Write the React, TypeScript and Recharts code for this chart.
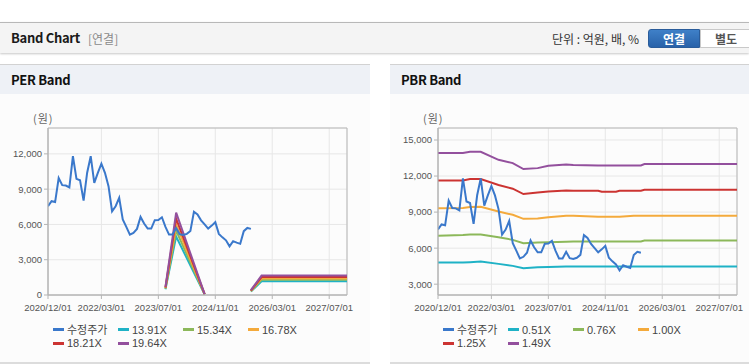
import { CartesianGrid, Line, LineChart, ReferenceArea, XAxis, YAxis } from 'recharts';

// month index 0 = 2020/12
const xTicks = [0, 15, 31, 47, 63, 79];
const xTickLabels = ['2020/12/01', '2022/03/01', '2023/07/01', '2024/11/01', '2026/03/01', '2027/07/01'];

// 수정주가, monthly from 2020/12
const price = [
  7550, 7975, 7900, 9950, 9340, 9310, 9150, 11800, 9880, 9760, 8030, 10400, 11800, 9540, 10390,
  11160, 10390, 9250, 7120, 7550, 8260, 6420, 5790, 5140, 5280, 5620, 6640, 6075, 5650, 5650,
  6360, 6380, 6610, 5790, 5140, 5140, 5700, 5160, 5100, 5200, 5440, 7080, 6850, 6350, 6000,
  5650, 5900, 6190, 5200, 4900, 4650, 4140, 4580, 4450, 4350, 5430, 5700, 5620,
];

// PER band (null = gap)
const perX = [33, 36, 44, 50, 57, 60, 84];
const per1391 = [487, 4966, 56, null, 292, 1168, 1168];
const per1534 = [537, 5476, 61, null, 322, 1289, 1289];
const per1678 = [587, 5990, 67, null, 352, 1410, 1410];
const per1821 = [637, 6501, 73, null, 382, 1530, 1530];
const per1964 = [687, 7011, 79, null, 412, 1650, 1650];
const perNames = ['13.91X', '15.34X', '16.78X', '18.21X', '19.64X'];

// PBR band
const pbrX = [0, 7, 9, 12, 17, 21, 24, 28, 31, 36, 38, 45, 46, 50, 51, 55, 57, 58, 84];
const pbr051 = [4800, 4800, 4830, 4890, 4690, 4525, 4330, 4415, 4440, 4470, 4470, 4470, 4470, 4470, 4470, 4470, 4470, 4470, 4470];
const pbr076 = [7025, 7100, 7135, 7135, 6915, 6690, 6415, 6480, 6500, 6530, 6550, 6550, 6550, 6550, 6550, 6550, 6550, 6635, 6635];
const pbr100 = [9330, 9340, 9420, 9450, 9050, 8775, 8440, 8470, 8580, 8690, 8690, 8610, 8610, 8610, 8610, 8690, 8690, 8690, 8690];
const pbr125 = [11630, 11640, 11745, 11745, 11250, 10950, 10500, 10630, 10715, 10790, 10775, 10775, 10690, 10690, 10775, 10775, 10775, 10860, 10860];
const pbr149 = [13910, 13920, 14020, 14020, 13350, 13080, 12580, 12660, 12850, 12960, 12920, 12880, 12880, 12880, 12880, 12880, 12880, 13000, 13000];
const pbrNames = ['0.51X', '0.76X', '1.00X', '1.25X', '1.49X'];

const priceColor = '#3a78cb';
const bandColors = ['#1fb2c6', '#8cb85a', '#f4aa3c', '#cc3432', '#93509d'];

const priceData = price.map((v, i) => ({ m: i, v }));
const toRows = (xs: number[], vs: (number | null)[]) => xs.map((m, i) => ({ m, v: vs[i] }));
const perData = [per1391, per1534, per1678, per1821, per1964].map((vs) => toRows(perX, vs));
const pbrData = [pbr051, pbr076, pbr100, pbr125, pbr149].map((vs) => toRows(pbrX, vs));

const tickStyle = { fill: '#555', fontSize: 9.5, fontFamily: '"Liberation Sans", Arial, sans-serif' };
const kr = '"Noto Sans CJK KR", "Liberation Sans", sans-serif';
const legendFont = '"Liberation Sans", "Noto Sans CJK KR", sans-serif';
const fmtX = (v: number) => xTickLabels[xTicks.indexOf(v)] ?? '';
const fmtY = (v: number) => v.toLocaleString('en-US');

function Band({
  left,
  width,
  rightMargin,
  yDomain,
  yTicks,
  bands,
  names,
}: {
  left: number;
  width: number;
  rightMargin: number;
  yDomain: [number, number];
  yTicks: number[];
  bands: { m: number; v: number | null }[][];
  names: string[];
}) {
  const legend = [{ name: '수정주가', color: priceColor }, ...names.map((n, i) => ({ name: n, color: bandColors[i] }))];
  return (
    <>
      <div style={{ position: 'absolute', left: left + 33, top: 111, fontSize: 11, color: '#666', fontFamily: kr, lineHeight: '14px', height: 14, letterSpacing: 1 }}>
        (원)
      </div>
      <div style={{ position: 'absolute', left, top: 94 }}>
        <LineChart width={width} height={225} margin={{ top: 34, right: rightMargin, bottom: 0, left: 8 }}>
          <CartesianGrid stroke="#e7e7e7" />
          <XAxis
            type="number"
            dataKey="m"
            domain={[0, 84]}
            ticks={xTicks}
            tickFormatter={fmtX}
            tick={tickStyle}
            height={24}
            stroke="#b4b4b4"
            tickSize={4}
            tickMargin={5}
            interval={0}
            allowDataOverflow
          />
          <YAxis
            domain={yDomain}
            ticks={yTicks}
            tickFormatter={fmtY}
            tick={tickStyle}
            width={40}
            stroke="#b4b4b4"
            tickSize={4}
            interval={0}
            allowDataOverflow
          />
          <ReferenceArea x1={0} x2={84} y1={yDomain[0]} y2={yDomain[1]} fill="none" stroke="#b8b8b8" ifOverflow="visible" />
          {bands.map((d, i) => (
            <Line
              key={names[i]}
              data={d}
              dataKey="v"
              stroke={bandColors[i]}
              strokeWidth={2}
              dot={false}
              activeDot={false}
              isAnimationActive={false}
            />
          ))}
          <Line
            data={priceData}
            dataKey="v"
            stroke={priceColor}
            strokeWidth={2}
            dot={false}
            activeDot={false}
            isAnimationActive={false}
          />
        </LineChart>
      </div>
      <div style={{ position: 'absolute', left: left + 53, top: 323, width: 270, display: 'flex', flexWrap: 'wrap' }}>
        {legend.map((it) => (
          <div key={it.name} style={{ width: 65, height: 13.5, display: 'flex', alignItems: 'center' }}>
            <span style={{ width: 11, height: 3, background: it.color, marginRight: 3, display: 'block', flex: 'none' }} />
            <span
              style={{
                display: 'block',
                height: 12,
                overflow: 'visible',
                fontSize: 11,
                color: '#444',
                fontFamily: legendFont,
                lineHeight: '12px',
                whiteSpace: 'nowrap',
              }}
            >
              {it.name}
            </span>
          </div>
        ))}
      </div>
    </>
  );
}

function Panel({ left, width, title }: { left: number; width: number; title: string }) {
  return (
    <div
      style={{
        position: 'absolute',
        left,
        top: 64,
        width,
        height: 297,
        background: '#fcfcfc',
        borderTop: '1px solid #d2d2d2',
        borderBottom: '2px solid #dcdcdc',
      }}
    >
      <div
        style={{
          height: 29,
          background: '#eef1f6',
          paddingLeft: 11,
          fontFamily: kr,
          fontWeight: 700,
          fontSize: 13,
          letterSpacing: -0.3,
          lineHeight: '29px',
          color: '#111',
        }}
      >
        {title}
      </div>
    </div>
  );
}

export default function App() {
  return (
    <div style={{ position: 'absolute', left: 0, top: 0, width: 749, height: 364, background: '#fff', overflow: 'hidden' }}>
      <div
        style={{
          position: 'absolute',
          left: 0,
          top: 22,
          width: 749,
          height: 30,
          background: '#f4f4f4',
          borderTop: '1px solid #b8b8b8',
          boxShadow: '0 1px 2px rgba(0,0,0,0.22)',
          fontFamily: kr,
        }}
      >
        <span
          style={{
            position: 'absolute',
            left: 11,
            top: 7,
            height: 16,
            lineHeight: '16px',
            fontSize: 13,
            letterSpacing: -0.3,
            fontWeight: 700,
            color: '#1a1a1a',
          }}
        >
          Band Chart
        </span>
        <span style={{ position: 'absolute', left: 88, top: 8, height: 15, lineHeight: '15px', fontSize: 12, color: '#8a8a8a' }}>[연결]</span>
        <span style={{ position: 'absolute', left: 552, top: 8, height: 15, lineHeight: '15px', fontSize: 12, color: '#333' }}>단위 : 억원, 배, %</span>
        <div
          style={{
            position: 'absolute',
            left: 648,
            top: 6,
            width: 52,
            height: 19,
            boxSizing: 'border-box',
            background: 'linear-gradient(#3f80c8, #2862a9)',
            border: '1px solid #2a5c9a',
            borderRadius: '3px 0 0 3px',
            color: '#fff',
            fontWeight: 700,
            fontSize: 12,
            lineHeight: '17px',
            textAlign: 'center',
          }}
        >
          연결
        </div>
        <div
          style={{
            position: 'absolute',
            left: 700,
            top: 6,
            width: 52,
            height: 19,
            boxSizing: 'border-box',
            background: '#fff',
            border: '1px solid #c9c9c9',
            color: '#555',
            fontWeight: 700,
            fontSize: 12,
            lineHeight: '17px',
            textAlign: 'center',
          }}
        >
          별도
        </div>
      </div>
      <Panel left={0} width={370} title="PER Band" />
      <Panel left={390} width={359} title="PBR Band" />
      <Band
        left={0}
        width={370}
        rightMargin={23}
        yDomain={[0, 14200]}
        yTicks={[0, 3000, 6000, 9000, 12000]}
        bands={perData}
        names={perNames}
      />
      <Band
        left={390}
        width={359}
        rightMargin={12}
        yDomain={[2100, 16000]}
        yTicks={[3000, 6000, 9000, 12000, 15000]}
        bands={pbrData}
        names={pbrNames}
      />
    </div>
  );
}
